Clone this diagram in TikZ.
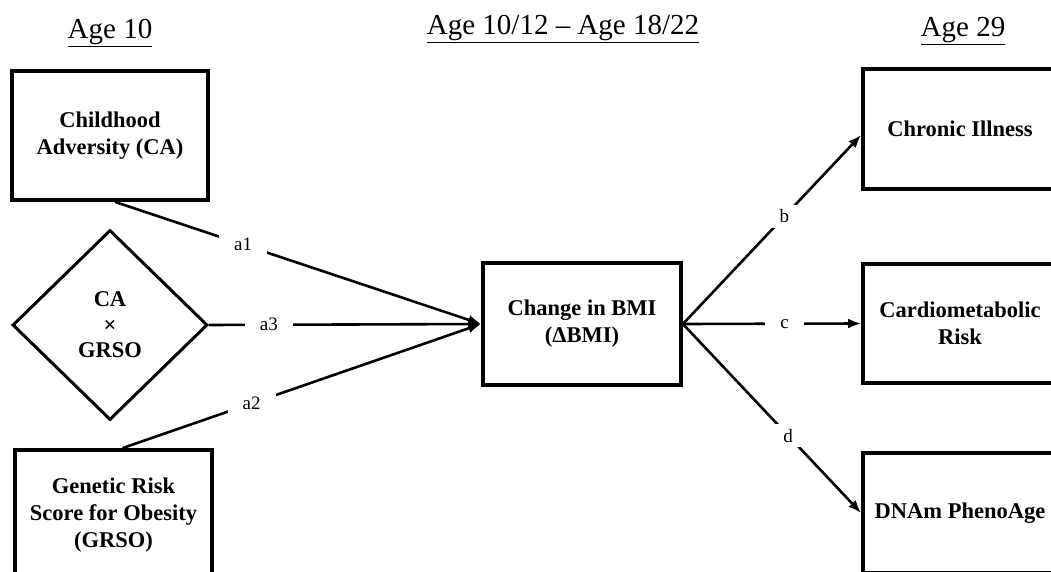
\documentclass[tikz,border=0pt]{standalone}
\usepackage{fontspec}
\setmainfont{Liberation Serif}
\usetikzlibrary{shapes.geometric,arrows.meta}
\tikzset{
  varbox/.style={draw, line width=3.8pt, align=center, inner sep=0pt,
    font=\fontsize{22.5}{27}\selectfont\bfseries},
  moddiam/.style={diamond, draw, line width=3pt, align=center, inner sep=0pt,
    minimum width=195pt, minimum height=190pt,
    font=\fontsize{22.5}{25.5}\selectfont\bfseries},
  conn/.style={line width=2.6pt, -{Latex[length=13pt,width=10pt]}},
  elab/.style={fill=white, inner xsep=15pt, inner ysep=5pt,
    font=\fontsize{19}{21}\selectfont},
  agehead/.style={anchor=base, font=\fontsize{29}{33}\selectfont}
}

\begin{document}
\begin{tikzpicture}[x=1pt,y=-1pt]
  \useasboundingbox (0,0) rectangle (1051,572);
  \clip (0,0) rectangle (1051,572);

  % time headings
  \node[agehead] (ageten) at (110,39) {\underline{Age 10}};
  \node[agehead] (agemid) at (563,35) {\underline{Age 10/12 – Age 18/22}};
  \node[agehead] (agenine) at (963,37) {\underline{Age 29}};

  % predictors
  \node[varbox, minimum width=196pt, minimum height=129pt] (ca) at (110,135.5) {Childhood\\Adversity (CA)};
  \node[moddiam] (caxg) at (110,325) {CA\\×\\GRSO};
  \node[varbox, minimum width=197pt, minimum height=130pt] (grso) at (113.5,515) {Genetic Risk\\Score for Obesity\\(GRSO)};

  % mediator
  \node[varbox, minimum width=198pt, minimum height=122pt] (bmi) at (582,324) {Change in BMI\\(ΔBMI)};

  % outcomes
  \node[varbox, minimum width=194pt, minimum height=120pt] (chronic) at (960,129) {Chronic Illness};
  \node[varbox, minimum width=194pt, minimum height=119pt] (cardio) at (960,323.5) {Cardiometabolic\\Risk};
  \node[varbox, minimum width=194pt, minimum height=120pt] (pheno) at (960,513) {DNAm PhenoAge};

  % paths
  \draw[conn] ([xshift=5pt]ca.south) -- node[elab, pos=.35] {a1} (bmi.west);
  \draw[conn] (caxg.east) -- node[elab, pos=.22] {a3} (bmi.west);
  \draw[conn] ([xshift=9pt]grso.north) -- node[elab, pos=.36] {a2} (bmi.west);

  \draw[conn] (bmi.east) -- node[elab, pos=.57] {b} ([yshift=-6pt]chronic.west);
  \draw[conn] (bmi.east) -- node[elab, pos=.57] {c} (cardio.west);
  \draw[conn] (bmi.east) -- node[elab, pos=.59] {d} (pheno.west);
\end{tikzpicture}
\end{document}
